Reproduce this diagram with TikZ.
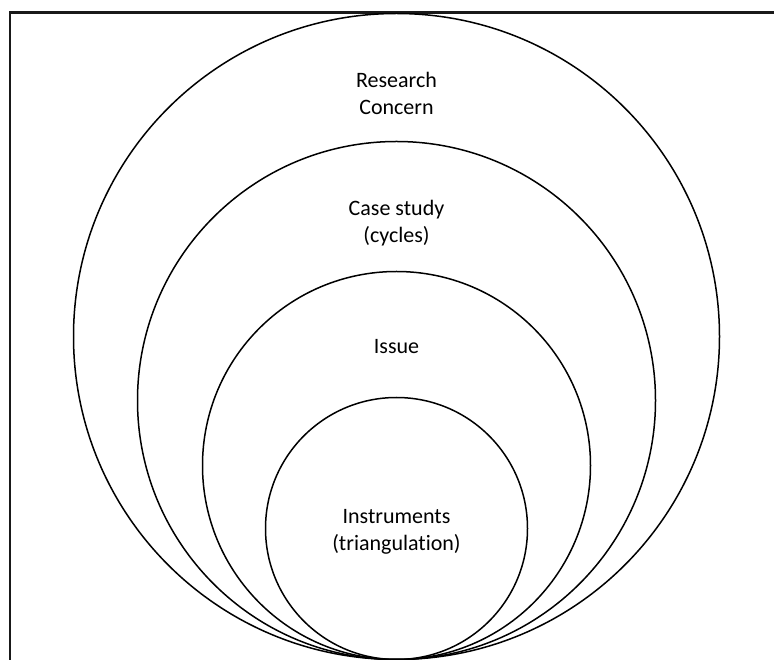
\documentclass[tikz,border=0pt]{standalone}
\usepackage{fontspec}
\setmainfont{Carlito}[Ligatures={NoCommon}]
\begin{document}
\begin{tikzpicture}[x=1pt,y=1pt,
  ring/.style={circle,draw=black,line width=1.5pt,inner sep=0pt},
  lbl/.style={align=center,font=\fontsize{22}{27}\selectfont,text=black}]
\useasboundingbox (0,0) rectangle (774,659);
% frame: left and top edges only
\draw[line width=2.2pt,black!90] (10,-5) -- (10,646.5) -- (790,646.5);
% nested circles, all touching at the bottom
\node[ring,minimum size=646pt] (concern) at (396.5,322.5) {};
\node[ring,minimum size=518pt] (case) at (396.5,258.5) {};
\node[ring,minimum size=388pt] (issue) at (396.5,193.5) {};
\node[ring,minimum size=262pt] (instr) at (396.5,130.5) {};
% labels
\node[lbl] (tconcern) at (396.5,566) {Research\\Concern};
\node[lbl] (tcase) at (396.5,436) {Case study\\(cycles)};
\node[lbl] (tissue) at (396.5,312) {Issue};
\node[lbl] (tinstr) at (396.5,127) {Instruments\\(triangulation)};
\end{tikzpicture}
\end{document}
